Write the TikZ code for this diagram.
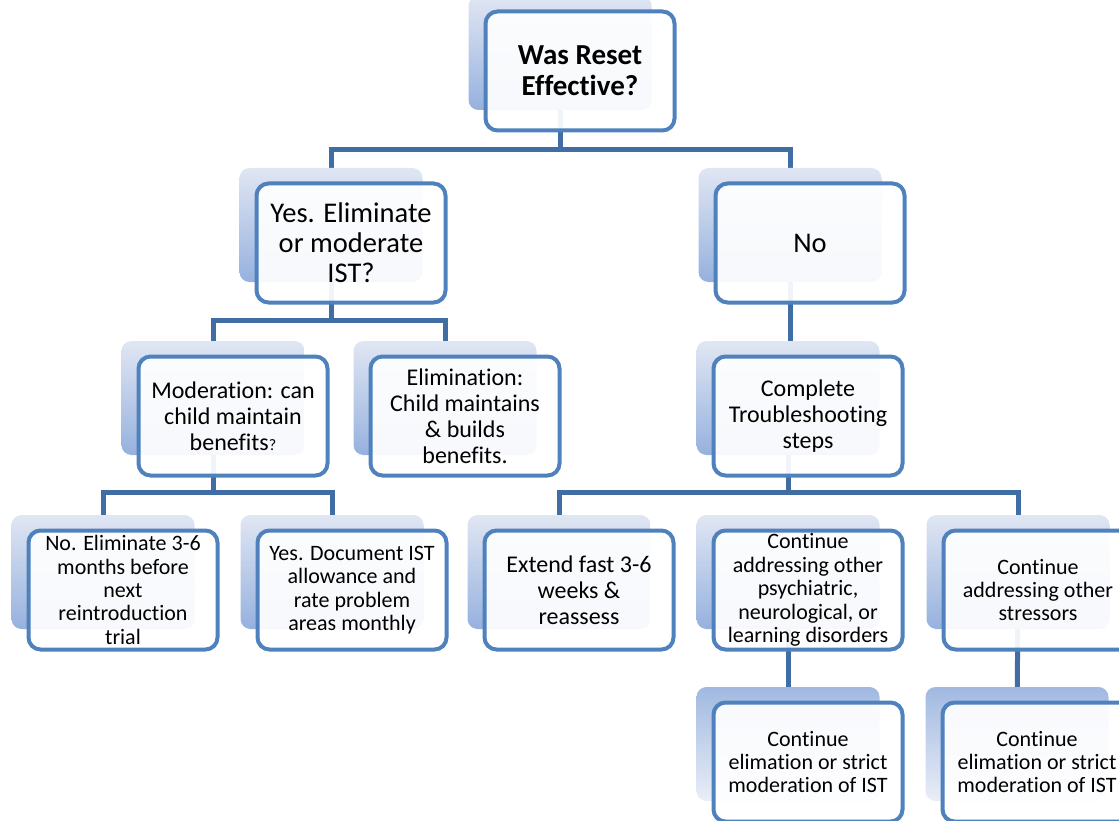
\documentclass[tikz,border=0pt]{standalone}
\usepackage{fontspec}
\setmainfont{Carlito}[Ligatures=NoCommon]
\usepackage{tikz}

\definecolor{boxblue}{RGB}{79,129,189}
\definecolor{linkblue}{RGB}{64,110,164}
\definecolor{shadelight}{RGB}{224,230,243}
\definecolor{shadedark}{RGB}{150,177,222}

\pgfdeclarelayer{links}
\pgfdeclarelayer{shades}
\pgfsetlayers{links,shades,main}

\tikzset{
  stepbox/.style={draw=boxblue, line width=4pt, rounded corners=12pt,
    fill=white, fill opacity=0.92, text opacity=1, text=black,
    minimum width=189pt, minimum height=119pt, inner xsep=2pt, inner ysep=0pt, align=center},
  shadebox/.style={rounded corners=10pt, top color=shadelight, bottom color=shadedark,
    minimum width=183pt, minimum height=114pt, inner sep=0pt},
  shadeboxlow/.style={shadebox, top color=shadedark!90, bottom color=shadelight!70!white},
  link/.style={draw=linkblue, line width=5pt, line join=miter},
  big/.style={font=\fontsize{28.5}{30}\selectfont},
  mid/.style={font=\fontsize{24}{26}\selectfont},
  small/.style={font=\fontsize{22}{23.4}\selectfont}
}

\begin{document}
\begin{tikzpicture}[x=1pt, y=-1pt]
      \useasboundingbox (0,0) rectangle (1119,821);

      \node[stepbox, font=\fontsize{29}{31}\selectfont\bfseries] (reset) at (580,71) {Was Reset\\Effective?};
      \node[stepbox, big] (yes) at (351,243) {Yes. Eliminate\\or moderate\\IST?};
      \node[stepbox, big] (no) at (810,243) {No};

      \node[stepbox, mid] (moder) at (233,416) {Moderation: can\\child maintain\\benefits{\fontsize{16}{16}\selectfont?}};
      \node[stepbox, mid] (elim) at (465,416) {Elimination:\\Child maintains\\\& builds\\benefits.};
      \node[stepbox, mid] (complete) at (808,416) {Complete\\Troubleshooting\\steps};

      \node[stepbox, small] (noelim) at (123,590) {No. Eliminate 3-6\\months before\\next\\reintroduction\\trial};
      \node[stepbox, small] (yesdoc) at (352,590) {Yes. Document IST\\allowance and\\rate problem\\areas monthly};
      \node[stepbox, mid] (extend) at (579,590) {Extend fast 3-6\\weeks \&\\reassess};
      \node[stepbox, small] (contpsy) at (808,590) {Continue\\addressing other\\psychiatric,\\neurological, or\\learning disorders};
      \node[stepbox, small] (stress) at (1038,590) {Continue\\addressing other\\stressors};

      \node[stepbox, small] (contelim1) at (808,762) {Continue\\elimation or strict\\moderation of IST};
      \node[stepbox, small] (contelim2) at (1037,762) {Continue\\elimation or strict\\moderation of IST};

      % the shaded boxes behind
      \begin{pgfonlayer}{shades}
        \foreach \n in {reset,yes,no,moder,elim,complete,noelim,yesdoc,extend,contpsy,stress}
          \node[shadebox] (\n-s) at ([shift={(-20,-18)}]\n.center) {};
        \foreach \n in {contelim1,contelim2}
          \node[shadeboxlow] (\n-s) at ([shift={(-20,-18)}]\n.center) {};
      \end{pgfonlayer}

      \coordinate (lvl1) at (0,150);
      \coordinate (lvl2) at (0,320);
      \coordinate (lvl3) at (0,492);

      \begin{pgfonlayer}{links}
        \draw[link] (reset-s) -- (reset-s |- lvl1) -| (yes-s);
        \draw[link] (reset-s |- lvl1) -| (no-s);
        \draw[link] (yes-s) -- (yes-s |- lvl2) -| (moder-s);
        \draw[link] (yes-s |- lvl2) -| (elim-s);
        \draw[link] (no-s) -- (no-s |- complete-s.north);
        \draw[link] (moder-s) -- (moder-s |- lvl3) -| (noelim-s);
        \draw[link] (moder-s |- lvl3) -| (yesdoc-s);
        \draw[link] (complete-s) -- (complete-s |- lvl3) -| (extend-s);
        \draw[link] (complete-s |- lvl3) -| (stress-s);
        \draw[link] (contpsy-s) -- (contelim1-s);
        \draw[link] (stress-s) -- (contelim2-s);
      \end{pgfonlayer}
    \end{tikzpicture}
\end{document}
